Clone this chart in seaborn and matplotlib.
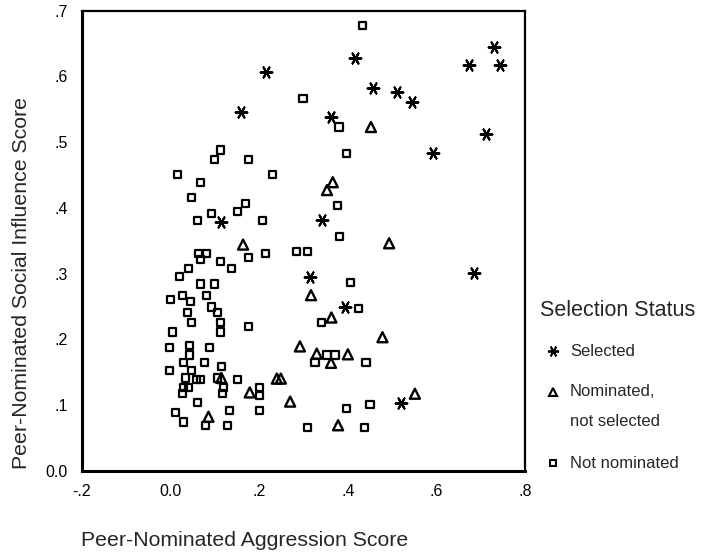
import matplotlib
matplotlib.use("Agg")
import matplotlib.pyplot as plt
from matplotlib.lines import Line2D
import seaborn as sns
import pandas as pd

# ---- data ----
selected_x = [0.215, 0.159, 0.417, 0.457, 0.510, 0.545, 0.361, 0.592, 0.711, 0.729,
              0.673, 0.743, 0.341, 0.115, 0.314, 0.393, 0.520, 0.685]
selected_y = [0.607, 0.546, 0.628, 0.583, 0.577, 0.561, 0.538, 0.483, 0.512, 0.644,
              0.617, 0.617, 0.382, 0.379, 0.294, 0.249, 0.103, 0.301]

nominated_x = [0.452, 0.366, 0.353, 0.164, 0.493, 0.317, 0.363, 0.478, 0.292, 0.330,
               0.362, 0.400, 0.240, 0.249, 0.115, 0.179, 0.270, 0.086, 0.378, 0.551]
nominated_y = [0.523, 0.439, 0.427, 0.344, 0.346, 0.267, 0.233, 0.203, 0.189, 0.178,
               0.164, 0.177, 0.140, 0.140, 0.141, 0.119, 0.105, 0.082, 0.069, 0.117]

not_nom_x = [0.432, 0.299, 0.380, 0.398, 0.114, 0.100, 0.177, 0.017, 0.231, 0.069,
             0.048, 0.170, 0.152, 0.093, 0.062, 0.208, 0.377, 0.382, 0.064, 0.082,
             0.215, 0.285, 0.310, 0.069, 0.177, 0.114, 0.138, 0.041, 0.021, 0.407,
             0.069, 0.100, 0.028, 0.082, 0.001, 0.046, 0.093, 0.107, 0.039, 0.423,
             0.048, 0.114, 0.341, 0.005, 0.114, 0.177, -0.001, 0.044, 0.089, 0.044,
             0.030, 0.078, -0.001, 0.048, 0.116, 0.035, 0.060, 0.069, 0.107, 0.152,
             0.030, 0.041, 0.028, 0.120, 0.118, 0.202, 0.202, 0.062, 0.012, 0.030,
             0.134, 0.202, 0.080, 0.129, 0.353, 0.371, 0.326, 0.441, 0.398, 0.450,
             0.310, 0.438]
not_nom_y = [0.678, 0.567, 0.523, 0.483, 0.488, 0.474, 0.474, 0.451, 0.451, 0.439,
             0.416, 0.406, 0.395, 0.392, 0.380, 0.380, 0.404, 0.356, 0.331, 0.331,
             0.331, 0.333, 0.333, 0.321, 0.325, 0.318, 0.307, 0.308, 0.296, 0.286,
             0.284, 0.284, 0.267, 0.267, 0.260, 0.257, 0.249, 0.241, 0.241, 0.247,
             0.226, 0.226, 0.225, 0.211, 0.211, 0.219, 0.188, 0.190, 0.188, 0.176,
             0.165, 0.165, 0.153, 0.153, 0.158, 0.141, 0.139, 0.139, 0.141, 0.138,
             0.127, 0.127, 0.117, 0.127, 0.118, 0.127, 0.114, 0.104, 0.088, 0.074,
             0.092, 0.092, 0.068, 0.068, 0.176, 0.176, 0.164, 0.165, 0.094, 0.100,
             0.065, 0.065]

x_ticks = [-0.2, 0.0, 0.2, 0.4, 0.6, 0.8]
x_tick_labels = ["-.2", "0.0", ".2", ".4", ".6", ".8"]
y_ticks = [0.0, 0.1, 0.2, 0.3, 0.4, 0.5, 0.6, 0.7]
y_tick_labels = ["0.0", ".1", ".2", ".3", ".4", ".5", ".6", ".7"]

# ---- style ----
sns.set_style("white")
plt.rcParams["font.family"] = ["Liberation Sans", "DejaVu Sans"]

W, H = 701, 557
fig = plt.figure(figsize=(W / 100, H / 100), dpi=100)
ax_l, ax_r, ax_t, ax_b = 81.5, 525.4, 10.7, 470.6
ax = fig.add_axes([ax_l / W, 1 - ax_b / H, (ax_r - ax_l) / W, (ax_b - ax_t) / H])

star = (6, 2, 90)
sns.scatterplot(x=not_nom_x, y=not_nom_y, ax=ax, marker="s", s=26,
                facecolor="none", edgecolor="black", linewidth=1.6)
sns.scatterplot(x=nominated_x, y=nominated_y, ax=ax, marker="^", s=52,
                facecolor="none", edgecolor="black", linewidth=1.7)
sns.scatterplot(x=selected_x, y=selected_y, ax=ax, marker=star, s=70,
                color="black", linewidth=1.5)

ax.set_xlim(-0.2, 0.8)
ax.set_ylim(0.0, 0.7)
ax.set_xticks(x_ticks)
ax.set_xticklabels(x_tick_labels)
ax.set_yticks(y_ticks)
ax.set_yticklabels(y_tick_labels)
ax.tick_params(axis="both", direction="out", length=3, width=2, colors="black",
               labelsize=11.5, pad=7)
ax.set_xlabel("")
ax.set_ylabel("")
for side in ["left", "bottom"]:
    ax.spines[side].set_linewidth(2.2)
for side in ["top", "right"]:
    ax.spines[side].set_linewidth(1.6)
for sp in ax.spines.values():
    sp.set_color("black")

# axis titles
fig.text(22 / W, 1 - 283 / H, "Peer-Nominated Social Influence Score", rotation=90,
         ha="center", va="center", fontsize=15.3)
fig.text(245 / W, 1 - 540 / H, "Peer-Nominated Aggression Score",
         ha="center", va="center", fontsize=15.3)

# legend
fig.text(540 / W, 1 - 310 / H, "Selection Status", ha="left", va="center", fontsize=15.5)
leg_items = [
    (351, star, "Selected", 8, "black", 1.3),
    (392, "^", "Nominated,", 5.5, "none", 1.5),
    (463, "s", "Not nominated", 4.5, "none", 1.5),
]
for yy, mk, lab, ms, fc, lw in leg_items:
    fig.add_artist(Line2D([553 / W], [1 - yy / H], marker=mk, markersize=ms,
                          markerfacecolor=fc, markeredgecolor="black",
                          markeredgewidth=lw, color="black", linestyle="none",
                          transform=fig.transFigure))
    fig.text(570 / W, 1 - yy / H, lab, ha="left", va="center", fontsize=12)
fig.text(570 / W, 1 - 422 / H, "not selected", ha="left", va="center", fontsize=12)

fig.savefig("out.png", dpi=100, facecolor="white")
